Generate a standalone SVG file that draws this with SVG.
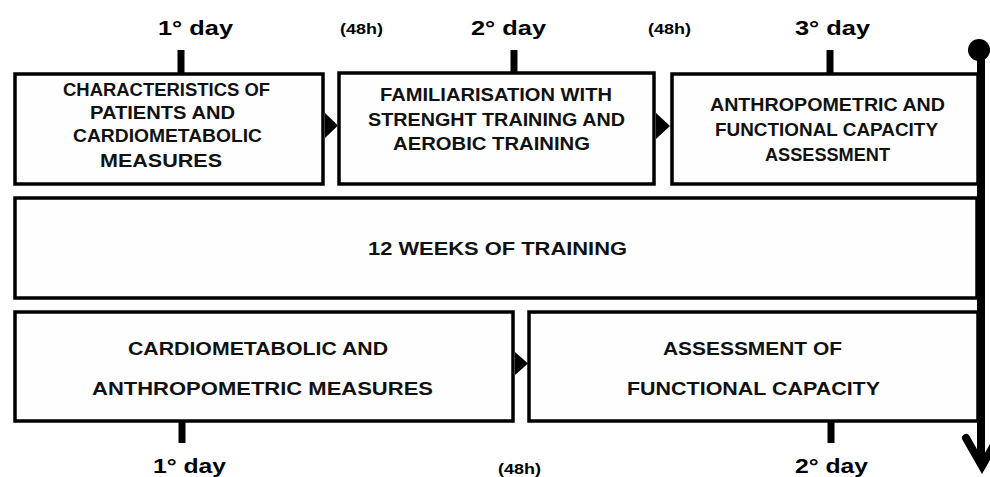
<svg xmlns="http://www.w3.org/2000/svg" width="990" height="477" viewBox="0 0 990 477">
<style>
.box{fill:#fefefe;stroke:#000;stroke-width:3.5}
.t{font-family:"Liberation Sans",Arial,sans-serif;font-weight:bold;font-size:18px;fill:#111}
.day{font-family:"Liberation Sans",Arial,sans-serif;font-weight:bold;font-size:21px;fill:#000}
.h{font-family:"Liberation Sans",Arial,sans-serif;font-weight:bold;font-size:14px;fill:#000}
.tick{stroke:#000;stroke-width:7}
.arr{fill:#000}
</style>
<rect width="990" height="477" fill="#fff"/>
<g id="labels">
<text class="day" x="158" y="35" textLength="75" lengthAdjust="spacingAndGlyphs">1° day</text>
<text class="h" x="340" y="34" textLength="43" lengthAdjust="spacingAndGlyphs">(48h)</text>
<text class="day" x="471" y="35" textLength="75" lengthAdjust="spacingAndGlyphs">2° day</text>
<text class="h" x="648" y="34" textLength="43" lengthAdjust="spacingAndGlyphs">(48h)</text>
<text class="day" x="795" y="35" textLength="75" lengthAdjust="spacingAndGlyphs">3° day</text>
<text class="day" x="153" y="473" textLength="73" lengthAdjust="spacingAndGlyphs">1° day</text>
<text class="h" x="498" y="474" textLength="43" lengthAdjust="spacingAndGlyphs">(48h)</text>
<text class="day" x="795" y="473" textLength="73" lengthAdjust="spacingAndGlyphs">2° day</text>
</g>
<g id="connectors">
<line class="tick" x1="181" y1="50" x2="181" y2="73"/>
<line class="tick" x1="514" y1="50" x2="514" y2="73"/>
<line class="tick" x1="830" y1="50" x2="830" y2="73"/>
<line class="tick" x1="182" y1="421" x2="182" y2="443"/>
<line class="tick" x1="831" y1="421" x2="831" y2="443"/>
<polygon class="arr" points="325,113 338,125.5 325,138"/>
<polygon class="arr" points="656,113 670,126 656,139"/>
<polygon class="arr" points="515,352 528,363.5 515,375"/>
<line x1="981" y1="50" x2="981" y2="464" stroke="#000" stroke-width="8"/>
<circle cx="979" cy="50" r="11" fill="#000"/>
<polyline points="966,438 982,466 998,438" fill="none" stroke="#000" stroke-width="8" stroke-linecap="round"/>
</g>
<g id="box1">
<rect class="box" x="15" y="74" width="308" height="110"/>
<text class="t" x="63" y="96" textLength="207" lengthAdjust="spacingAndGlyphs">CHARACTERISTICS OF</text>
<text class="t" x="90" y="119" textLength="145" lengthAdjust="spacingAndGlyphs">PATIENTS AND</text>
<text class="t" x="73" y="142" textLength="189" lengthAdjust="spacingAndGlyphs">CARDIOMETABOLIC</text>
<text class="t" x="100" y="167" textLength="122" lengthAdjust="spacingAndGlyphs">MEASURES</text>
</g>
<g id="box2">
<rect class="box" x="339" y="73" width="315" height="111"/>
<text class="t" x="380" y="101" textLength="232" lengthAdjust="spacingAndGlyphs">FAMILIARISATION WITH</text>
<text class="t" x="368" y="126" textLength="257" lengthAdjust="spacingAndGlyphs">STRENGHT TRAINING AND</text>
<text class="t" x="393" y="150" textLength="197" lengthAdjust="spacingAndGlyphs">AEROBIC TRAINING</text>
</g>
<g id="box3">
<rect class="box" x="672" y="74" width="306" height="110"/>
<text class="t" x="710" y="111" textLength="235" lengthAdjust="spacingAndGlyphs">ANTHROPOMETRIC AND</text>
<text class="t" x="715" y="136" textLength="223" lengthAdjust="spacingAndGlyphs">FUNCTIONAL CAPACITY</text>
<text class="t" x="765" y="161" textLength="125" lengthAdjust="spacingAndGlyphs">ASSESSMENT</text>
</g>
<g id="box4">
<rect class="box" x="15" y="198" width="962" height="100"/>
<text class="t" x="368" y="255" textLength="259" lengthAdjust="spacingAndGlyphs">12 WEEKS OF TRAINING</text>
</g>
<g id="box5">
<rect class="box" x="15" y="312" width="498" height="109"/>
<text class="t" x="128" y="355" textLength="260" lengthAdjust="spacingAndGlyphs">CARDIOMETABOLIC AND</text>
<text class="t" x="92" y="395" textLength="341" lengthAdjust="spacingAndGlyphs">ANTHROPOMETRIC MEASURES</text>
</g>
<g id="box6">
<rect class="box" x="529" y="312" width="449" height="109"/>
<text class="t" x="663" y="355" textLength="179" lengthAdjust="spacingAndGlyphs">ASSESSMENT OF</text>
<text class="t" x="627" y="395" textLength="253" lengthAdjust="spacingAndGlyphs">FUNCTIONAL CAPACITY</text>
</g>
</svg>
